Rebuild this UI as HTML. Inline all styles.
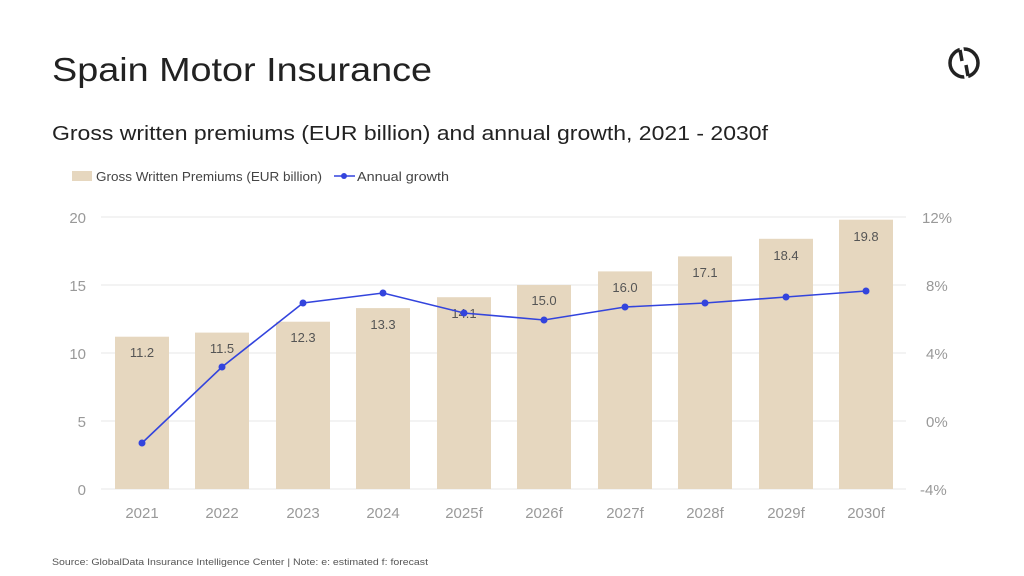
<!DOCTYPE html>
<html><head><meta charset="utf-8"><style>
body{margin:0;background:#fff;}
svg{display:block;font-family:"Liberation Sans",sans-serif;}
</style></head><body>
<svg width="1024" height="576" viewBox="0 0 1024 576">
<rect width="1024" height="576" fill="#fff"/>
<text x="52" y="81" font-size="33" fill="#222" textLength="380" lengthAdjust="spacingAndGlyphs">Spain Motor Insurance</text>
<text x="52" y="140" font-size="20" fill="#222" textLength="716" lengthAdjust="spacingAndGlyphs">Gross written premiums (EUR billion) and annual growth, 2021 - 2030f</text>
<circle cx="964" cy="63" r="14" fill="none" stroke="#222" stroke-width="3.5"/>
<line x1="961" y1="45" x2="967" y2="81" stroke="#fff" stroke-width="4"/>
<line x1="960" y1="50" x2="962" y2="61" stroke="#222" stroke-width="3.5"/>
<line x1="966" y1="65" x2="968" y2="76" stroke="#222" stroke-width="3.5"/>
<rect x="72" y="171" width="20" height="10" fill="#e6d7bf"/>
<text x="96" y="181" font-size="12.5" fill="#444" textLength="226" lengthAdjust="spacingAndGlyphs">Gross Written Premiums (EUR billion)</text>
<line x1="334" y1="176" x2="355" y2="176" stroke="#3344dd" stroke-width="1.5"/>
<circle cx="344" cy="176" r="3" fill="#3344dd"/>
<text x="357" y="181" font-size="12.5" fill="#444" textLength="92" lengthAdjust="spacingAndGlyphs">Annual growth</text>
<g stroke="#ececec" stroke-width="1.3">
<line x1="101" y1="217" x2="906" y2="217"/><line x1="101" y1="285" x2="906" y2="285"/>
<line x1="101" y1="353" x2="906" y2="353"/><line x1="101" y1="421" x2="906" y2="421"/>
<line x1="101" y1="489" x2="906" y2="489"/>
</g>
<g font-size="15" fill="#999" text-anchor="end">
<text x="86" y="223">20</text><text x="86" y="291">15</text><text x="86" y="359">10</text><text x="86" y="427">5</text><text x="86" y="495">0</text>
</g>
<g font-size="15" fill="#999">
<text x="922" y="223">12%</text><text x="926" y="291">8%</text><text x="926" y="359">4%</text><text x="926" y="427">0%</text><text x="920" y="495">-4%</text>
</g>
<g fill="#e6d7bf">
<rect x="115" y="336.7" width="54" height="152.3"/>
<rect x="195" y="332.6" width="54" height="156.4"/>
<rect x="276" y="321.7" width="54" height="167.3"/>
<rect x="356" y="308.1" width="54" height="180.9"/>
<rect x="437" y="297.2" width="54" height="191.8"/>
<rect x="517" y="285" width="54" height="204"/>
<rect x="598" y="271.4" width="54" height="217.6"/>
<rect x="678" y="256.4" width="54" height="232.6"/>
<rect x="759" y="238.8" width="54" height="250.2"/>
<rect x="839" y="219.7" width="54" height="269.3"/>
</g>
<g font-size="13" fill="#555" text-anchor="middle">
<text x="142" y="357">11.2</text><text x="222" y="353">11.5</text><text x="303" y="342">12.3</text>
<text x="383" y="329">13.3</text><text x="464" y="318">14.1</text><text x="544" y="305">15.0</text>
<text x="625" y="292">16.0</text><text x="705" y="277">17.1</text><text x="786" y="260">18.4</text><text x="866" y="241">19.8</text>
</g>
<polyline fill="none" stroke="#3344dd" stroke-width="1.6" points="142,443 222,367 303,303 383,293 464,313 544,320 625,307 705,303 786,297 866,291"/>
<g fill="#3344dd">
<circle cx="142" cy="443" r="3.5"/><circle cx="222" cy="367" r="3.5"/><circle cx="303" cy="303" r="3.5"/>
<circle cx="383" cy="293" r="3.5"/><circle cx="464" cy="313" r="3.5"/><circle cx="544" cy="320" r="3.5"/>
<circle cx="625" cy="307" r="3.5"/><circle cx="705" cy="303" r="3.5"/><circle cx="786" cy="297" r="3.5"/>
<circle cx="866" cy="291" r="3.5"/>
</g>
<g font-size="15" fill="#999" text-anchor="middle">
<text x="142" y="518">2021</text><text x="222" y="518">2022</text><text x="303" y="518">2023</text>
<text x="383" y="518">2024</text><text x="464" y="518">2025f</text><text x="544" y="518">2026f</text>
<text x="625" y="518">2027f</text><text x="705" y="518">2028f</text><text x="786" y="518">2029f</text><text x="866" y="518">2030f</text>
</g>
<text x="52" y="565" font-size="9.5" fill="#555" textLength="376" lengthAdjust="spacingAndGlyphs">Source: GlobalData Insurance Intelligence Center | Note: e: estimated f: forecast</text>
</svg>
</body></html>
